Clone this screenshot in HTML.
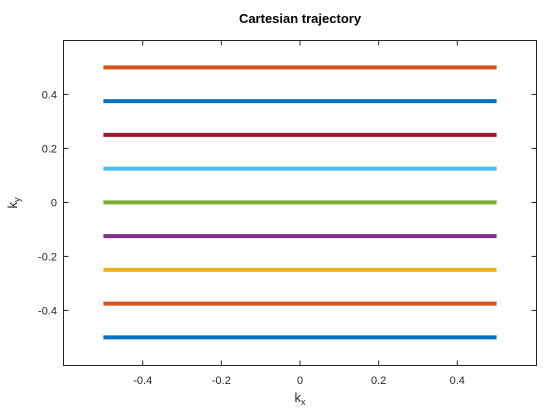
<!DOCTYPE html>
<html><head><meta charset="utf-8"><style>
body{margin:0;background:#fff;}
svg{display:block;font-family:"Liberation Sans",sans-serif;}
</style></head><body>
<svg id="chart" width="560" height="420">
<rect width="560" height="420" fill="#fff"/>
<text x="300" y="23" text-anchor="middle" font-size="13" font-weight="bold" fill="#000">Cartesian trajectory</text>
<g id="marks"></g>
<rect x="63.5" y="40.5" width="473" height="325" fill="none" stroke="#262626" stroke-width="1"/>
<g id="ticks"></g>
<text x="300" y="402" text-anchor="middle" font-size="13" fill="#262626">k<tspan font-size="9" dy="3">x</tspan></text>
<text transform="translate(17,203) rotate(-90)" text-anchor="middle" font-size="13" fill="#262626">k<tspan font-size="9" dy="3">y</tspan></text>
</svg>
<script>
const kyValues = [-0.5,-0.375,-0.25,-0.125,0,0.125,0.25,0.375,0.5];
const kxStart = [-0.5,-0.5,-0.5,-0.5,-0.5,-0.5,-0.5,-0.5,-0.5];
const kxEnd = [0.5,0.5,0.5,0.5,0.5,0.5,0.5,0.5,0.5];
const colors = ["#0072BD","#D95319","#EDB120","#7E2F8E","#77AC30","#4DBEEE","#A2142F","#0072BD","#D95319"];
const xTicks = [-0.4,-0.2,0,0.2,0.4];
const yTicks = [-0.4,-0.2,0,0.2,0.4];
const xTickLabels = ["-0.4","-0.2","0","0.2","0.4"];
const yTickLabels = ["-0.4","-0.2","0","0.2","0.4"];
const NS="http://www.w3.org/2000/svg";
const L=63.5,R=536.5,T=40.5,B=365.5,xmin=-0.6015,xmax=0.6015,ymin=-0.604,ymax=0.5997;
const sx=v=>L+(v-xmin)/(xmax-xmin)*(R-L);
const sy=v=>B-(v-ymin)/(ymax-ymin)*(B-T);
const marks=document.getElementById('marks');
kyValues.forEach((y,i)=>{
  const l=document.createElementNS(NS,'line');
  l.setAttribute('x1',sx(kxStart[i]));l.setAttribute('x2',sx(kxEnd[i]));
  l.setAttribute('y1',sy(y));l.setAttribute('y2',sy(y));
  l.setAttribute('stroke',colors[i]);l.setAttribute('stroke-width','4');
  
  
  marks.appendChild(l);
});
const tg=document.getElementById('ticks');
xTicks.forEach((v,i)=>{
  const x=sx(v);
  for(const [a,b] of [[B,B-5],[T,T+5]]){
    const t=document.createElementNS(NS,'line');
    t.setAttribute('x1',x);t.setAttribute('x2',x);t.setAttribute('y1',a);t.setAttribute('y2',b);
    t.setAttribute('stroke','#262626');
    
    
    tg.appendChild(t);
  }
  const s=document.createElementNS(NS,'text');
  s.setAttribute('x',x);s.setAttribute('y',384);s.setAttribute('text-anchor','middle');
  s.setAttribute('font-size','11');s.setAttribute('fill','#262626');
  s.textContent=xTickLabels[i];
  
  
  tg.appendChild(s);
});
yTicks.forEach((v,i)=>{
  const y=sy(v);
  for(const [a,b] of [[L,L+5],[R,R-5]]){
    const t=document.createElementNS(NS,'line');
    t.setAttribute('x1',a);t.setAttribute('x2',b);t.setAttribute('y1',y);t.setAttribute('y2',y);
    t.setAttribute('stroke','#262626');
    
    
    tg.appendChild(t);
  }
  const s=document.createElementNS(NS,'text');
  s.setAttribute('x',57);s.setAttribute('y',y+4);s.setAttribute('text-anchor','end');
  s.setAttribute('font-size','11');s.setAttribute('fill','#262626');
  s.textContent=yTickLabels[i];
  
  
  tg.appendChild(s);
});
</script>
</body></html>
